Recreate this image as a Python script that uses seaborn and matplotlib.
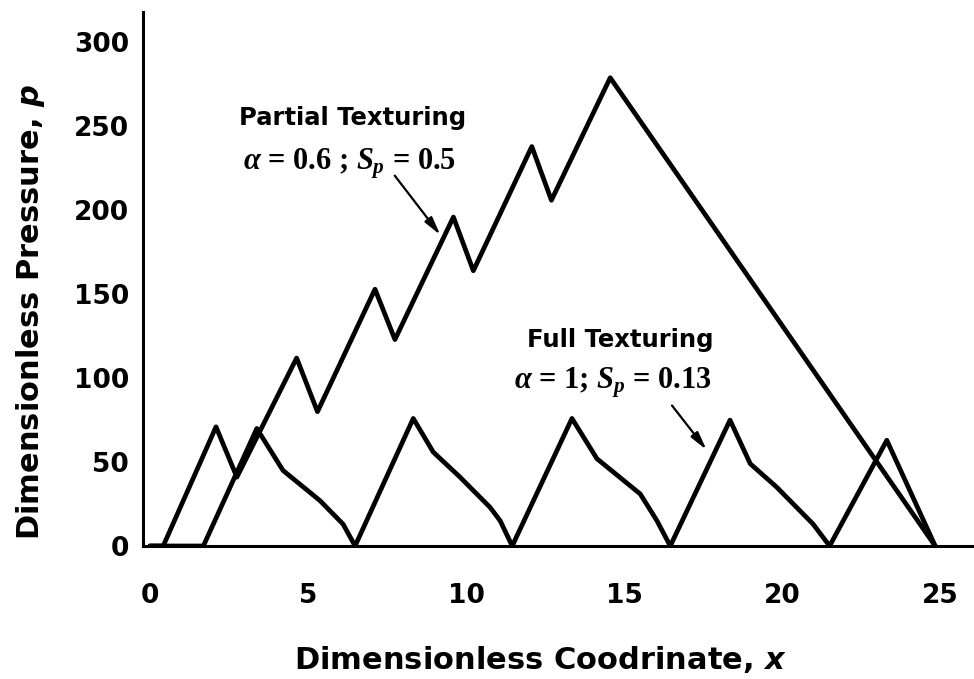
import numpy as np
import pandas as pd
import seaborn as sns
import matplotlib.pyplot as plt

# curve values
partial_x = [0.0, 0.42, 2.09, 2.75, 4.64, 5.30, 7.12, 7.75, 9.60, 10.23, 12.08, 12.70, 14.56, 24.84]
partial_y = [0, 0, 71, 41, 112, 80, 153, 123, 196, 164, 238, 206, 279, 0]

full_x = [0.0, 1.69, 3.38, 4.21, 5.38, 6.11, 6.49, 8.33, 8.96, 9.81, 10.76, 11.08, 11.46,
          13.35, 14.14, 15.51, 16.04, 16.46, 18.35, 18.99, 19.83, 20.98, 21.50, 23.31, 24.84]
full_y = [0, 0, 70, 45, 27, 13, 0, 76, 56, 41, 23, 15, 0,
          76, 52, 31, 15, 0, 75, 49, 35, 13, 0, 63, 0]

x_ticks = [0, 5, 10, 15, 20, 25]
y_ticks = [0, 50, 100, 150, 200, 250, 300]

sns.set_theme(style="white")
plt.rcParams['font.family'] = ['DejaVu Sans']
plt.rcParams['text.color'] = 'black'
plt.rcParams['axes.labelcolor'] = 'black'
plt.rcParams['xtick.color'] = 'black'
plt.rcParams['ytick.color'] = 'black'
# serif math for the annotations, bold oblique sans for the axis variables
plt.rcParams['mathtext.fontset'] = 'custom'
plt.rcParams['mathtext.rm'] = 'Liberation Serif:bold'
plt.rcParams['mathtext.it'] = 'Liberation Serif:italic:bold'
plt.rcParams['mathtext.bf'] = 'Liberation Serif:bold'
plt.rcParams['mathtext.sf'] = 'DejaVu Sans:bold:oblique'

fig = plt.figure(figsize=(9.74, 6.79), dpi=100)
ax = fig.add_axes([0.1468, 0.1959, 0.851, 0.786])

df_p = pd.DataFrame({'x': partial_x, 'y': partial_y})
df_f = pd.DataFrame({'x': full_x, 'y': full_y})
sns.lineplot(data=df_p, x='x', y='y', sort=False, estimator=None, color='black', lw=3.4, ax=ax)
sns.lineplot(data=df_f, x='x', y='y', sort=False, estimator=None, color='black', lw=3.4, ax=ax)

ax.set_xlim(-0.22, 26.0)
ax.set_ylim(0, 318)
ax.set_xticks(x_ticks)
ax.set_yticks(y_ticks)
ax.tick_params(length=0, labelsize=19)
ax.tick_params(axis='x', pad=27)
ax.tick_params(axis='y', pad=10)
for lab in ax.get_xticklabels() + ax.get_yticklabels():
    lab.set_fontweight('bold')

sns.despine(ax=ax)
for s in ['left', 'bottom']:
    ax.spines[s].set_color('black')
    ax.spines[s].set_linewidth(2.2)

ax.set_xlabel('Dimensionless Coodrinate, $\\mathsf{x}$', fontsize=22, fontweight='bold')
ax.set_ylabel('Dimensionless Pressure, $\\mathsf{p}$', fontsize=22, fontweight='bold')
ax.xaxis.set_label_coords(0.48, -0.183)
ax.yaxis.set_label_coords(-0.116, 0.438)

# annotations
ax.text(6.42, 255, 'Partial Texturing', ha='center', va='center', fontsize=17.5, fontweight='bold')
ax.text(6.3, 228, r'$\alpha$ = 0.6 ; $S_p$ = 0.5', ha='center', va='center', fontsize=22,
        family='Liberation Serif', fontweight='bold')
ax.annotate('', xy=(9.24, 184), xytext=(7.69, 222),
            arrowprops=dict(arrowstyle='-|>,head_length=0.9,head_width=0.22', color='black', lw=1.6))

ax.text(14.87, 123, 'Full Texturing', ha='center', va='center', fontsize=17.5, fontweight='bold')
ax.text(14.65, 97, r'$\alpha$ = 1; $S_p$ = 0.13', ha='center', va='center', fontsize=22,
        family='Liberation Serif', fontweight='bold')
ax.annotate('', xy=(17.66, 56), xytext=(16.46, 85),
            arrowprops=dict(arrowstyle='-|>,head_length=0.9,head_width=0.22', color='black', lw=1.6))

plt.savefig('out.png', dpi=100)
plt.close()
